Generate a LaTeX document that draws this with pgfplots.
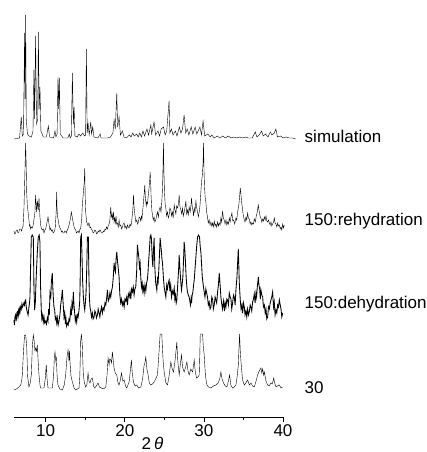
\documentclass[border=0pt]{standalone}
\usepackage{pgfplots}
\pgfplotsset{compat=1.18}
\usepackage{fontspec}
\setmainfont{Liberation Sans}
\begin{document}
\begin{tikzpicture}
\path[use as bounding box] (-14pt,-35pt) rectangle (413pt,417pt);
\begin{axis}[
  scale only axis,
  width=269pt, height=405pt,
  xmin=6, xmax=40, ymin=35, ymax=440,
  axis x line*=bottom, axis y line=none,
  clip=false,
  xtick={10,20,30,40}, minor xtick={15,25,35},
  tick align=outside, major tick length=5pt, minor tick length=3pt,
  tick style={black, line width=0.7pt},
  axis line style={line width=0.9pt},
  /pgf/number format/assume math mode=true,
  ticklabel style={font=\fontsize{17}{20}\selectfont},
  xticklabel style={yshift=1pt},
  xlabel={2\,\textit{θ}},
  xlabel style={font=\fontsize{17}{20}\selectfont, yshift=6pt, xshift=4pt},
  cycle list={{black, no markers, line width=0.85pt}},
  ]
% simulation
\addplot table[row sep=\\, y expr=\thisrowno{1}+313] {
6.0 0\\ 6.7 1\\ 6.92 22\\ 7.05 3\\ 7.2 5\\ 7.34 106\\ 7.4 40\\ 7.47 124\\ 7.55 20\\ 7.7 5\\ 7.9 3\\ 8.2 2\\ 8.4 8\\ 8.52 69\\ 8.6 20\\ 8.73 103\\ 8.85 15\\ 9.0 20\\ 9.08 107\\ 9.18 30\\ 9.28 52\\ 9.4 8\\ 9.7 2\\ 10.1 2\\ 10.34 13\\ 10.5 2\\ 11.0 1\\ 11.18 8\\ 11.3 2\\ 11.45 5\\ 11.56 62\\ 11.65 30\\ 11.73 61\\ 11.85 5\\ 12.2 1\\ 12.8 1\\ 13.0 5\\ 13.1 1\\ 13.25 3\\ 13.38 66\\ 13.5 15\\ 13.6 32\\ 13.7 3\\ 14.0 2\\ 14.2 5\\ 14.4 3\\ 14.7 6\\ 14.9 3\\ 15.05 4\\ 15.15 90\\ 15.25 6\\ 15.36 16\\ 15.5 4\\ 15.7 17\\ 15.8 5\\ 15.95 12\\ 16.1 2\\ 16.6 1\\ 16.9 5\\ 17.0 1\\ 17.8 1\\ 18.2 2\\ 18.5 6\\ 18.65 19\\ 18.8 10\\ 18.99 46\\ 19.1 12\\ 19.28 22\\ 19.45 4\\ 19.7 8\\ 19.9 2\\ 20.2 1\\ 20.6 4\\ 20.8 2\\ 21.0 6\\ 21.2 3\\ 21.5 5\\ 21.7 2\\ 21.9 6\\ 22.1 2\\ 22.3 8\\ 22.5 3\\ 22.8 10\\ 23.0 4\\ 23.3 14\\ 23.4 5\\ 23.7 17\\ 23.9 4\\ 24.2 8\\ 24.4 3\\ 24.6 10\\ 24.9 12\\ 25.1 4\\ 25.3 8\\ 25.6 38\\ 25.7 6\\ 25.9 10\\ 26.1 4\\ 26.4 8\\ 26.6 3\\ 26.9 12\\ 27.1 6\\ 27.3 10\\ 27.5 24\\ 27.7 6\\ 27.9 10\\ 28.1 4\\ 28.4 12\\ 28.6 5\\ 28.9 12\\ 29.1 5\\ 29.5 12\\ 29.7 4\\ 29.9 18\\ 30.1 3\\ 30.5 5\\ 30.8 2\\ 31.0 4\\ 31.3 1\\ 31.7 3\\ 32.0 1\\ 32.4 3\\ 32.7 1\\ 33.1 3\\ 33.4 1\\ 33.8 2\\ 34.1 1\\ 34.5 2\\ 34.9 1\\ 35.3 2\\ 35.6 1\\ 36.1 1\\ 36.5 7\\ 36.7 2\\ 37.0 4\\ 37.3 8\\ 37.5 3\\ 37.8 5\\ 38.1 2\\ 38.4 7\\ 38.6 4\\ 38.9 6\\ 39.1 10\\ 39.3 2\\ 39.7 3\\ 40.0 1\\ 40.4 2\\ 40.8 1\\ 41.2 1\\ 41.6 0\\
};
% 150:rehydration
\addplot table[row sep=\\, y expr=\thisrowno{1}+220] {
5.99 1\\ 6.1 -2\\ 6.20 -1\\ 6.3 2\\ 6.41 2\\ 6.5 -1\\ 6.62 0\\ 6.7 3\\ 6.84 3\\ 6.95 1\\ 7.05 4\\ 7.15 6\\ 7.26 24\\ 7.38 60\\ 7.47 89\\ 7.53 70\\ 7.60 40\\ 7.68 27\\ 7.89 12\\ 7.95 6\\ 8.02 7\\ 8.1 3\\ 8.19 5\\ 8.31 4\\ 8.4 6\\ 8.52 12\\ 8.65 20\\ 8.73 37\\ 8.86 20\\ 8.95 31\\ 9.07 22\\ 9.16 34\\ 9.28 15\\ 9.37 7\\ 9.45 4\\ 9.58 2\\ 9.7 3\\ 9.79 -1\\ 9.9 2\\ 10.0 3\\ 10.13 8\\ 10.30 15\\ 10.46 6\\ 10.55 2\\ 10.63 4\\ 10.75 1\\ 10.84 2\\ 10.95 -1\\ 11.06 0\\ 11.15 2\\ 11.22 5\\ 11.33 20\\ 11.39 40\\ 11.45 22\\ 11.52 15\\ 11.69 7\\ 11.8 4\\ 11.90 3\\ 12.0 0\\ 12.11 1\\ 12.2 -1\\ 12.32 -1\\ 12.4 1\\ 12.53 1\\ 12.6 -1\\ 12.74 2\\ 12.85 4\\ 12.99 8\\ 13.1 12\\ 13.25 20\\ 13.42 12\\ 13.59 5\\ 13.7 3\\ 13.80 2\\ 13.9 -1\\ 14.01 0\\ 14.1 1\\ 14.22 -1\\ 14.3 2\\ 14.43 4\\ 14.55 12\\ 14.64 27\\ 14.77 40\\ 14.88 50\\ 14.94 64\\ 15.0 35\\ 15.06 20\\ 15.19 10\\ 15.28 8\\ 15.36 6\\ 15.45 9\\ 15.53 8\\ 15.6 4\\ 15.70 5\\ 15.8 2\\ 15.91 2\\ 16.0 -1\\ 16.12 0\\ 16.2 2\\ 16.33 1\\ 16.45 -2\\ 16.54 -1\\ 16.65 1\\ 16.75 0\\ 16.85 2\\ 16.96 1\\ 17.05 -1\\ 17.17 -1\\ 17.3 1\\ 17.38 0\\ 17.5 3\\ 17.60 2\\ 17.7 5\\ 17.81 3\\ 17.9 6\\ 18.02 8\\ 18.12 12\\ 18.23 25\\ 18.32 15\\ 18.40 18\\ 18.48 12\\ 18.57 20\\ 18.65 10\\ 18.73 14\\ 18.82 9\\ 18.90 16\\ 18.98 8\\ 19.07 9\\ 19.18 5\\ 19.28 12\\ 19.38 6\\ 19.49 7\\ 19.6 3\\ 19.70 5\\ 19.8 8\\ 19.92 9\\ 20.02 4\\ 20.13 6\\ 20.25 3\\ 20.34 7\\ 20.45 5\\ 20.55 4\\ 20.65 8\\ 20.76 6\\ 20.85 9\\ 20.93 15\\ 21.02 22\\ 21.10 37\\ 21.18 25\\ 21.27 18\\ 21.4 10\\ 21.52 12\\ 21.62 8\\ 21.73 10\\ 21.82 15\\ 21.94 14\\ 22.02 11\\ 22.11 16\\ 22.18 13\\ 22.24 20\\ 22.30 24\\ 22.36 30\\ 22.45 38\\ 22.53 47\\ 22.6 35\\ 22.66 30\\ 22.72 26\\ 22.78 30\\ 22.87 28\\ 22.95 35\\ 23.02 40\\ 23.08 45\\ 23.15 52\\ 23.21 60\\ 23.27 50\\ 23.33 35\\ 23.42 22\\ 23.50 17\\ 23.6 12\\ 23.71 15\\ 23.8 10\\ 23.92 12\\ 24.02 16\\ 24.13 20\\ 24.25 15\\ 24.35 22\\ 24.47 25\\ 24.58 20\\ 24.68 30\\ 24.75 40\\ 24.81 55\\ 24.89 89\\ 24.95 60\\ 25.02 40\\ 25.1 28\\ 25.19 24\\ 25.28 16\\ 25.40 20\\ 25.5 14\\ 25.61 17\\ 25.7 24\\ 25.82 22\\ 25.92 16\\ 26.03 20\\ 26.12 14\\ 26.25 27\\ 26.35 22\\ 26.46 18\\ 26.55 26\\ 26.67 24\\ 26.78 28\\ 26.88 37\\ 26.98 25\\ 27.09 22\\ 27.2 18\\ 27.30 24\\ 27.4 16\\ 27.51 20\\ 27.62 25\\ 27.72 31\\ 27.82 18\\ 27.93 22\\ 28.03 17\\ 28.14 25\\ 28.27 20\\ 28.36 26\\ 28.44 34\\ 28.52 26\\ 28.61 22\\ 28.7 16\\ 28.78 24\\ 28.88 20\\ 28.99 31\\ 29.1 24\\ 29.20 20\\ 29.3 15\\ 29.41 20\\ 29.5 26\\ 29.58 35\\ 29.70 50\\ 29.78 55\\ 29.83 60\\ 29.90 70\\ 29.96 89\\ 30.02 60\\ 30.08 45\\ 30.16 35\\ 30.25 30\\ 30.35 20\\ 30.46 15\\ 30.55 9\\ 30.67 12\\ 30.78 7\\ 30.89 10\\ 31.0 6\\ 31.10 9\\ 31.2 5\\ 31.31 11\\ 31.42 6\\ 31.52 8\\ 31.62 5\\ 31.73 10\\ 31.84 6\\ 31.94 9\\ 32.05 7\\ 32.15 14\\ 32.25 10\\ 32.36 21\\ 32.46 14\\ 32.57 12\\ 32.68 8\\ 32.79 12\\ 32.9 7\\ 33.0 10\\ 33.1 8\\ 33.21 14\\ 33.32 10\\ 33.42 15\\ 33.54 19\\ 33.65 11\\ 33.76 12\\ 33.9 8\\ 34.05 14\\ 34.15 12\\ 34.26 20\\ 34.35 24\\ 34.43 28\\ 34.52 36\\ 34.60 44\\ 34.68 38\\ 34.77 30\\ 34.85 25\\ 34.94 19\\ 35.02 15\\ 35.11 12\\ 35.2 10\\ 35.32 15\\ 35.42 12\\ 35.53 19\\ 35.62 14\\ 35.74 13\\ 35.85 8\\ 35.95 10\\ 36.05 7\\ 36.16 9\\ 36.27 8\\ 36.37 13\\ 36.5 10\\ 36.62 16\\ 36.75 20\\ 36.88 27\\ 36.96 22\\ 37.05 18\\ 37.13 15\\ 37.21 14\\ 37.32 10\\ 37.43 13\\ 37.53 11\\ 37.64 15\\ 37.75 12\\ 37.85 16\\ 37.95 11\\ 38.06 10\\ 38.17 12\\ 38.27 9\\ 38.38 7\\ 38.48 10\\ 38.58 6\\ 38.69 8\\ 38.8 10\\ 38.90 14\\ 39.0 9\\ 39.11 8\\ 39.22 5\\ 39.32 9\\ 39.43 6\\ 39.54 7\\ 39.65 3\\ 39.75 5\\ 39.85 2\\ 39.96 8\\ 40.06 4\\ 40.16 7\\
};
% 150:dehydration
\addplot table[row sep=\\, y expr=\thisrowno{1}+125] {
5.99 7\\ 6.05 2\\ 6.12 10\\ 6.20 12\\ 6.28 6\\ 6.35 14\\ 6.41 15\\ 6.5 10\\ 6.56 16\\ 6.62 13\\ 6.7 18\\ 6.76 15\\ 6.84 20\\ 6.92 18\\ 7.0 23\\ 7.08 20\\ 7.17 22\\ 7.25 24\\ 7.32 22\\ 7.40 26\\ 7.47 27\\ 7.55 20\\ 7.62 17\\ 7.68 15\\ 7.78 12\\ 7.89 20\\ 7.96 24\\ 8.02 30\\ 8.10 60\\ 8.19 90\\ 8.30 92\\ 8.44 90\\ 8.52 40\\ 8.61 17\\ 8.7 25\\ 8.78 45\\ 8.86 60\\ 8.95 75\\ 9.07 90\\ 9.18 92\\ 9.28 85\\ 9.36 40\\ 9.45 17\\ 9.52 8\\ 9.62 12\\ 9.7 5\\ 9.79 10\\ 9.88 4\\ 10.0 6\\ 10.1 3\\ 10.21 9\\ 10.3 6\\ 10.38 18\\ 10.46 12\\ 10.55 34\\ 10.65 30\\ 10.72 45\\ 10.84 54\\ 10.9 40\\ 10.97 30\\ 11.05 20\\ 11.14 17\\ 11.22 8\\ 11.31 10\\ 11.4 4\\ 11.48 9\\ 11.58 2\\ 11.69 6\\ 11.8 12\\ 11.90 22\\ 12.0 28\\ 12.11 37\\ 12.18 28\\ 12.24 20\\ 12.32 10\\ 12.41 14\\ 12.5 3\\ 12.57 8\\ 12.65 1\\ 12.74 4\\ 12.85 2\\ 12.95 8\\ 13.05 6\\ 13.16 17\\ 13.25 12\\ 13.33 24\\ 13.42 20\\ 13.50 35\\ 13.58 22\\ 13.67 14\\ 13.75 6\\ 13.84 10\\ 13.92 5\\ 14.01 12\\ 14.1 10\\ 14.22 17\\ 14.3 25\\ 14.35 40\\ 14.43 90\\ 14.52 92\\ 14.60 70\\ 14.68 45\\ 14.77 30\\ 14.85 22\\ 14.94 17\\ 15.02 24\\ 15.11 35\\ 15.2 60\\ 15.28 90\\ 15.40 90\\ 15.46 55\\ 15.53 30\\ 15.6 20\\ 15.70 16\\ 15.8 10\\ 15.91 14\\ 16.0 8\\ 16.12 10\\ 16.22 16\\ 16.33 14\\ 16.42 9\\ 16.54 12\\ 16.64 18\\ 16.75 14\\ 16.85 10\\ 16.96 16\\ 17.06 20\\ 17.17 14\\ 17.27 19\\ 17.38 17\\ 17.5 24\\ 17.60 22\\ 17.7 28\\ 17.81 37\\ 17.92 26\\ 18.02 28\\ 18.12 34\\ 18.23 30\\ 18.33 36\\ 18.44 40\\ 18.55 50\\ 18.65 64\\ 18.73 58\\ 18.82 55\\ 18.9 68\\ 18.99 75\\ 19.08 66\\ 19.16 60\\ 19.22 55\\ 19.28 50\\ 19.38 32\\ 19.49 24\\ 19.6 28\\ 19.70 22\\ 19.8 25\\ 19.92 20\\ 20.02 28\\ 20.13 26\\ 20.24 30\\ 20.34 22\\ 20.45 33\\ 20.55 30\\ 20.66 35\\ 20.76 28\\ 20.87 38\\ 20.97 35\\ 21.08 40\\ 21.18 32\\ 21.28 38\\ 21.39 40\\ 21.5 55\\ 21.60 82\\ 21.68 76\\ 21.77 70\\ 21.86 60\\ 21.94 64\\ 22.02 50\\ 22.11 40\\ 22.2 44\\ 22.28 36\\ 22.36 40\\ 22.45 34\\ 22.55 42\\ 22.66 36\\ 22.76 44\\ 22.87 48\\ 22.94 55\\ 23.0 64\\ 23.1 75\\ 23.21 90\\ 23.30 92\\ 23.38 88\\ 23.46 70\\ 23.55 60\\ 23.62 75\\ 23.71 89\\ 23.8 60\\ 23.9 45\\ 24.05 37\\ 24.14 48\\ 24.22 45\\ 24.32 60\\ 24.40 75\\ 24.47 89\\ 24.55 82\\ 24.64 75\\ 24.7 68\\ 24.77 64\\ 24.88 50\\ 24.98 40\\ 25.08 35\\ 25.19 30\\ 25.3 42\\ 25.40 38\\ 25.5 44\\ 25.61 47\\ 25.7 36\\ 25.8 42\\ 25.91 30\\ 26.02 36\\ 26.13 33\\ 26.25 39\\ 26.33 28\\ 26.41 32\\ 26.5 24\\ 26.58 27\\ 26.66 38\\ 26.75 50\\ 26.82 60\\ 26.88 72\\ 26.94 62\\ 27.0 55\\ 27.08 45\\ 27.17 37\\ 27.25 42\\ 27.34 50\\ 27.42 65\\ 27.51 85\\ 27.58 78\\ 27.64 70\\ 27.7 60\\ 27.76 50\\ 27.85 40\\ 27.93 35\\ 28.03 32\\ 28.14 30\\ 28.22 26\\ 28.31 22\\ 28.38 28\\ 28.44 24\\ 28.52 32\\ 28.61 35\\ 28.7 42\\ 28.78 47\\ 28.88 58\\ 28.99 70\\ 29.1 82\\ 29.20 90\\ 29.32 92\\ 29.45 90\\ 29.54 80\\ 29.62 75\\ 29.70 64\\ 29.78 52\\ 29.87 45\\ 29.95 40\\ 30.04 35\\ 30.14 30\\ 30.25 38\\ 30.35 34\\ 30.46 30\\ 30.56 22\\ 30.67 25\\ 30.78 18\\ 30.89 20\\ 31.0 30\\ 31.10 28\\ 31.2 18\\ 31.31 22\\ 31.42 30\\ 31.52 27\\ 31.62 24\\ 31.73 35\\ 31.84 42\\ 31.94 54\\ 32.0 48\\ 32.07 40\\ 32.15 30\\ 32.24 24\\ 32.35 18\\ 32.49 26\\ 32.6 16\\ 32.69 24\\ 32.79 20\\ 32.9 28\\ 33.0 27\\ 33.1 22\\ 33.21 34\\ 33.32 30\\ 33.42 28\\ 33.52 18\\ 33.63 24\\ 33.74 32\\ 33.84 30\\ 33.95 22\\ 34.05 37\\ 34.12 44\\ 34.18 50\\ 34.27 65\\ 34.35 78\\ 34.42 60\\ 34.47 45\\ 34.54 35\\ 34.60 27\\ 34.7 18\\ 34.81 22\\ 34.9 14\\ 35.0 24\\ 35.11 20\\ 35.2 12\\ 35.32 16\\ 35.42 10\\ 35.53 18\\ 35.64 12\\ 35.74 15\\ 35.85 22\\ 35.95 20\\ 36.05 16\\ 36.16 25\\ 36.27 28\\ 36.37 33\\ 36.47 24\\ 36.58 34\\ 36.66 30\\ 36.75 40\\ 36.82 45\\ 36.88 50\\ 36.96 42\\ 37.05 38\\ 37.13 28\\ 37.21 37\\ 37.32 32\\ 37.43 30\\ 37.53 20\\ 37.64 22\\ 37.75 14\\ 37.85 18\\ 37.95 8\\ 38.06 10\\ 38.17 20\\ 38.27 18\\ 38.38 24\\ 38.48 27\\ 38.58 30\\ 38.69 35\\ 38.8 20\\ 38.90 25\\ 39.0 12\\ 39.11 17\\ 39.22 14\\ 39.32 22\\ 39.43 20\\ 39.54 27\\ 39.65 22\\ 39.75 18\\ 39.85 10\\ 39.96 14\\
};
% 30
\addplot table[row sep=\\, y expr=\thisrowno{1}+61] {
5.99 1\\ 6.3 2\\ 6.62 4\\ 6.85 6\\ 7.0 12\\ 7.05 16\\ 7.2 40\\ 7.34 56\\ 7.47 56\\ 7.55 50\\ 7.60 46\\ 7.72 15\\ 7.89 4\\ 8.05 8\\ 8.19 16\\ 8.32 45\\ 8.44 56\\ 8.55 50\\ 8.65 40\\ 8.73 43\\ 8.85 40\\ 8.95 46\\ 9.05 30\\ 9.16 16\\ 9.3 5\\ 9.37 3\\ 9.79 3\\ 9.95 12\\ 10.08 26\\ 10.18 12\\ 10.30 3\\ 10.84 3\\ 11.0 15\\ 11.1 34\\ 11.18 39\\ 11.28 30\\ 11.35 33\\ 11.45 15\\ 11.56 6\\ 11.8 2\\ 12.11 1\\ 12.35 6\\ 12.53 16\\ 12.7 34\\ 12.83 41\\ 12.9 35\\ 12.95 30\\ 13.02 40\\ 13.08 29\\ 13.2 15\\ 13.38 9\\ 13.6 3\\ 13.80 1\\ 14.22 3\\ 14.32 15\\ 14.43 50\\ 14.52 57\\ 14.64 45\\ 14.72 25\\ 14.77 16\\ 14.9 8\\ 15.06 4\\ 15.2 6\\ 15.36 18\\ 15.48 10\\ 15.61 8\\ 15.75 12\\ 15.91 13\\ 16.05 5\\ 16.20 3\\ 16.4 5\\ 16.62 8\\ 16.8 4\\ 17.05 3\\ 17.3 2\\ 17.60 4\\ 17.75 15\\ 17.89 33\\ 18.02 26\\ 18.1 32\\ 18.23 31\\ 18.32 28\\ 18.44 39\\ 18.55 30\\ 18.65 23\\ 18.8 18\\ 18.99 16\\ 19.15 8\\ 19.28 6\\ 19.42 10\\ 19.58 18\\ 19.75 10\\ 19.92 11\\ 20.1 5\\ 20.25 3\\ 20.4 6\\ 20.55 9\\ 20.7 20\\ 20.84 31\\ 20.95 18\\ 21.10 9\\ 21.3 5\\ 21.52 6\\ 21.75 3\\ 22.03 4\\ 22.25 12\\ 22.45 26\\ 22.55 28\\ 22.66 34\\ 22.8 22\\ 22.95 16\\ 23.1 8\\ 23.29 6\\ 23.5 7\\ 23.71 9\\ 23.9 12\\ 24.13 16\\ 24.3 35\\ 24.47 57\\ 24.68 57\\ 24.78 40\\ 24.85 30\\ 24.98 19\\ 25.2 8\\ 25.40 6\\ 25.6 15\\ 25.82 29\\ 26.0 22\\ 26.16 19\\ 26.35 30\\ 26.5 42\\ 26.58 49\\ 26.7 30\\ 26.88 16\\ 27.0 25\\ 27.17 36\\ 27.3 24\\ 27.51 19\\ 27.7 24\\ 27.85 29\\ 28.0 20\\ 28.14 16\\ 28.35 22\\ 28.57 19\\ 28.68 25\\ 28.78 31\\ 28.9 20\\ 29.07 13\\ 29.25 14\\ 29.41 16\\ 29.48 35\\ 29.54 57\\ 29.83 57\\ 29.92 45\\ 30.04 36\\ 30.2 15\\ 30.38 6\\ 30.6 4\\ 30.89 3\\ 31.2 5\\ 31.52 6\\ 31.8 8\\ 32.0 12\\ 32.15 19\\ 32.3 12\\ 32.49 8\\ 32.7 5\\ 32.91 4\\ 33.1 10\\ 33.25 16\\ 33.4 6\\ 33.63 3\\ 33.85 4\\ 34.05 6\\ 34.2 14\\ 34.35 26\\ 34.51 57\\ 34.6 40\\ 34.68 30\\ 34.89 11\\ 35.11 6\\ 35.3 8\\ 35.53 11\\ 35.75 6\\ 35.95 8\\ 36.15 5\\ 36.37 4\\ 36.6 10\\ 36.79 16\\ 37.0 20\\ 37.21 23\\ 37.32 18\\ 37.43 22\\ 37.55 16\\ 37.64 19\\ 37.85 10\\ 38.06 6\\ 38.25 5\\ 38.48 8\\ 38.65 7\\ 38.82 13\\ 38.95 8\\ 39.11 4\\ 39.3 5\\ 39.54 6\\ 39.75 3\\ 39.96 4\\
};
\node[anchor=west, font=\fontsize{17}{20}\selectfont] at (axis cs:42.3,316) {simulation};
\node[anchor=west, font=\fontsize{17}{20}\selectfont] at (axis cs:42.3,231) {150:rehydration};
\node[anchor=west, font=\fontsize{17}{20}\selectfont] at (axis cs:42.3,148) {150:dehydration};
\node[anchor=west, font=\fontsize{17}{20}\selectfont] at (axis cs:42.3,64) {30};
\end{axis}
\end{tikzpicture}
\end{document}
